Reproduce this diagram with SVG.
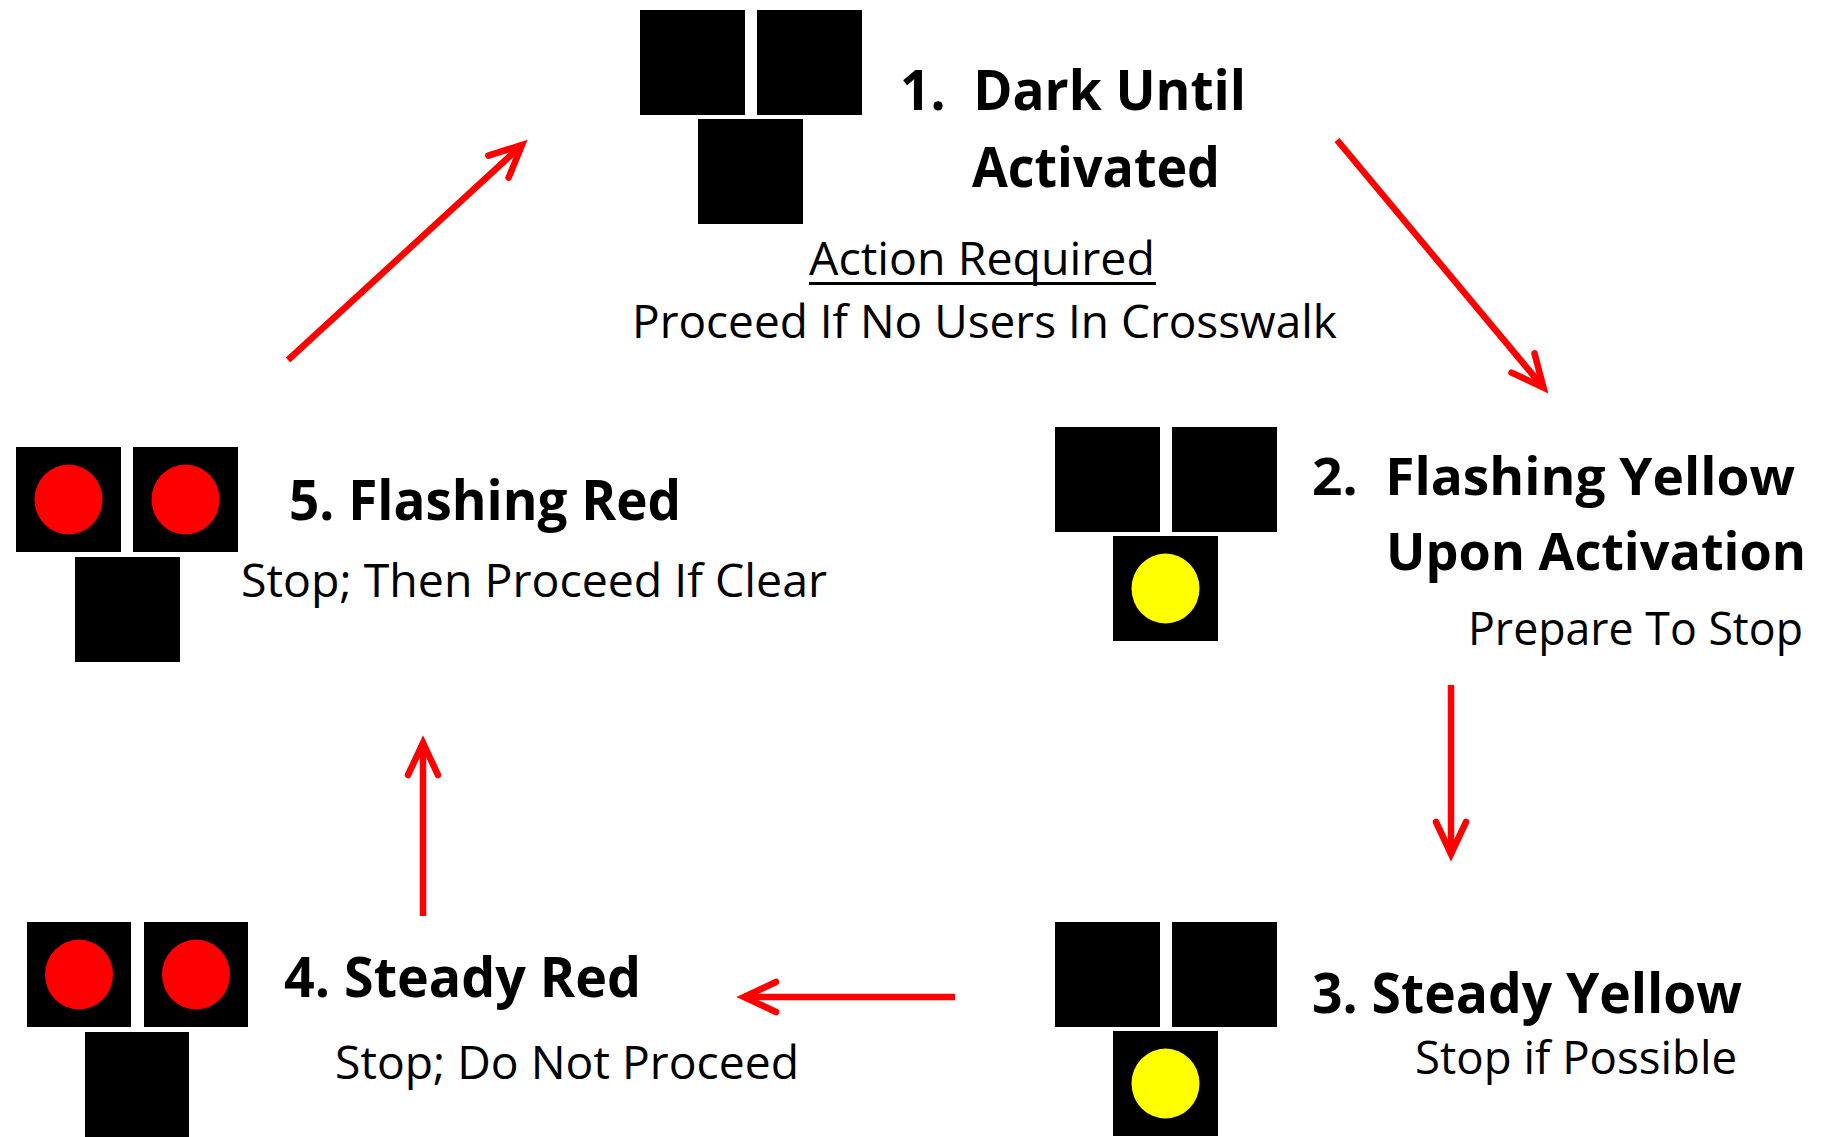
<svg xmlns="http://www.w3.org/2000/svg" width="1823" height="1137" viewBox="0 0 1823 1137">
<style>
.box{fill:#000}
.red{fill:#FF0000}
.yel{fill:#FFFF00}
.t{font-family:"Open Sans","Noto Sans","Liberation Sans",sans-serif;fill:#000}
.b{font-size:56px;font-weight:700}
.b2{font-size:52px;font-weight:700}
.r{font-size:45px;font-weight:400}
.conn{stroke:#FF0000;stroke-width:6.5;fill:none}
</style>
<defs>
<marker id="ah" markerUnits="userSpaceOnUse" viewBox="-45 -25 60 50" markerWidth="60" markerHeight="50" refX="0" refY="0" orient="auto" overflow="visible">
<path d="M-32,-15 L0,0 L-32,15" fill="none" stroke="#FF0000" stroke-width="6.5" stroke-linecap="round" stroke-linejoin="miter"/>
</marker>
</defs>
<rect width="1823" height="1137" fill="#fff"/>
<g id="connectors">
<line class="conn" x1="288" y1="360" x2="522" y2="145" marker-end="url(#ah)"/>
<line class="conn" x1="1337" y1="140" x2="1543.5" y2="387.6" marker-end="url(#ah)"/>
<line class="conn" x1="1451" y1="685" x2="1451" y2="854" marker-end="url(#ah)"/>
<line class="conn" x1="955" y1="997" x2="744" y2="997" marker-end="url(#ah)"/>
<line class="conn" x1="423" y1="916" x2="423" y2="743" marker-end="url(#ah)"/>
</g>
<g id="node1">
<rect class="box" x="640" y="10" width="105" height="105"/>
<rect class="box" x="757" y="10" width="105" height="105"/>
<rect class="box" x="698" y="119" width="105" height="105"/>
<text class="t b" x="900" y="110" textLength="346" lengthAdjust="spacingAndGlyphs" xml:space="preserve">1.  Dark Until</text>
<text class="t b" x="972" y="187" textLength="248" lengthAdjust="spacingAndGlyphs">Activated</text>
<text class="t r" x="809" y="275" textLength="346" lengthAdjust="spacingAndGlyphs">Action Required</text>
<rect x="809" y="282" width="347" height="3" fill="#000"/>
<text class="t r" x="632" y="338" textLength="705" lengthAdjust="spacingAndGlyphs">Proceed If No Users In Crosswalk</text>
</g>
<g id="node2">
<rect class="box" x="1055" y="427" width="105" height="105"/>
<rect class="box" x="1172" y="427" width="105" height="105"/>
<rect class="box" x="1113" y="536" width="105" height="105"/>
<ellipse class="yel" cx="1165.5" cy="588.5" rx="34" ry="35"/>
<text class="t b2" x="1312" y="495" textLength="483" lengthAdjust="spacingAndGlyphs" xml:space="preserve">2.  Flashing Yellow</text>
<text class="t b2" x="1386" y="570" textLength="420" lengthAdjust="spacingAndGlyphs">Upon Activation</text>
<text class="t r" x="1468" y="645" textLength="335" lengthAdjust="spacingAndGlyphs">Prepare To Stop</text>
</g>
<g id="node3">
<rect class="box" x="1055" y="922" width="105" height="105"/>
<rect class="box" x="1172" y="922" width="105" height="105"/>
<rect class="box" x="1113" y="1031" width="105" height="105"/>
<ellipse class="yel" cx="1165.5" cy="1083.5" rx="34" ry="35"/>
<text class="t b" x="1312" y="1013" textLength="430" lengthAdjust="spacingAndGlyphs">3. Steady Yellow</text>
<text class="t r" x="1415" y="1074" textLength="322" lengthAdjust="spacingAndGlyphs">Stop if Possible</text>
</g>
<g id="node4">
<rect class="box" x="27" y="922" width="104" height="105"/>
<rect class="box" x="144" y="922" width="104" height="105"/>
<rect class="box" x="85" y="1032" width="104" height="105"/>
<ellipse class="red" cx="79" cy="974.5" rx="34" ry="35"/>
<ellipse class="red" cx="196" cy="974.5" rx="34" ry="35"/>
<text class="t b" x="284" y="997" textLength="357" lengthAdjust="spacingAndGlyphs">4. Steady Red</text>
<text class="t r" x="335" y="1079" textLength="464" lengthAdjust="spacingAndGlyphs">Stop; Do Not Proceed</text>
</g>
<g id="node5">
<rect class="box" x="16" y="447" width="105" height="105"/>
<rect class="box" x="133" y="447" width="105" height="105"/>
<rect class="box" x="75" y="557" width="105" height="105"/>
<ellipse class="red" cx="68.5" cy="499.5" rx="34" ry="35"/>
<ellipse class="red" cx="185.5" cy="499.5" rx="34" ry="35"/>
<text class="t b" x="289" y="520" textLength="392" lengthAdjust="spacingAndGlyphs">5. Flashing Red</text>
<text class="t r" x="241" y="597" textLength="586" lengthAdjust="spacingAndGlyphs">Stop; Then Proceed If Clear</text>
</g>
</svg>
